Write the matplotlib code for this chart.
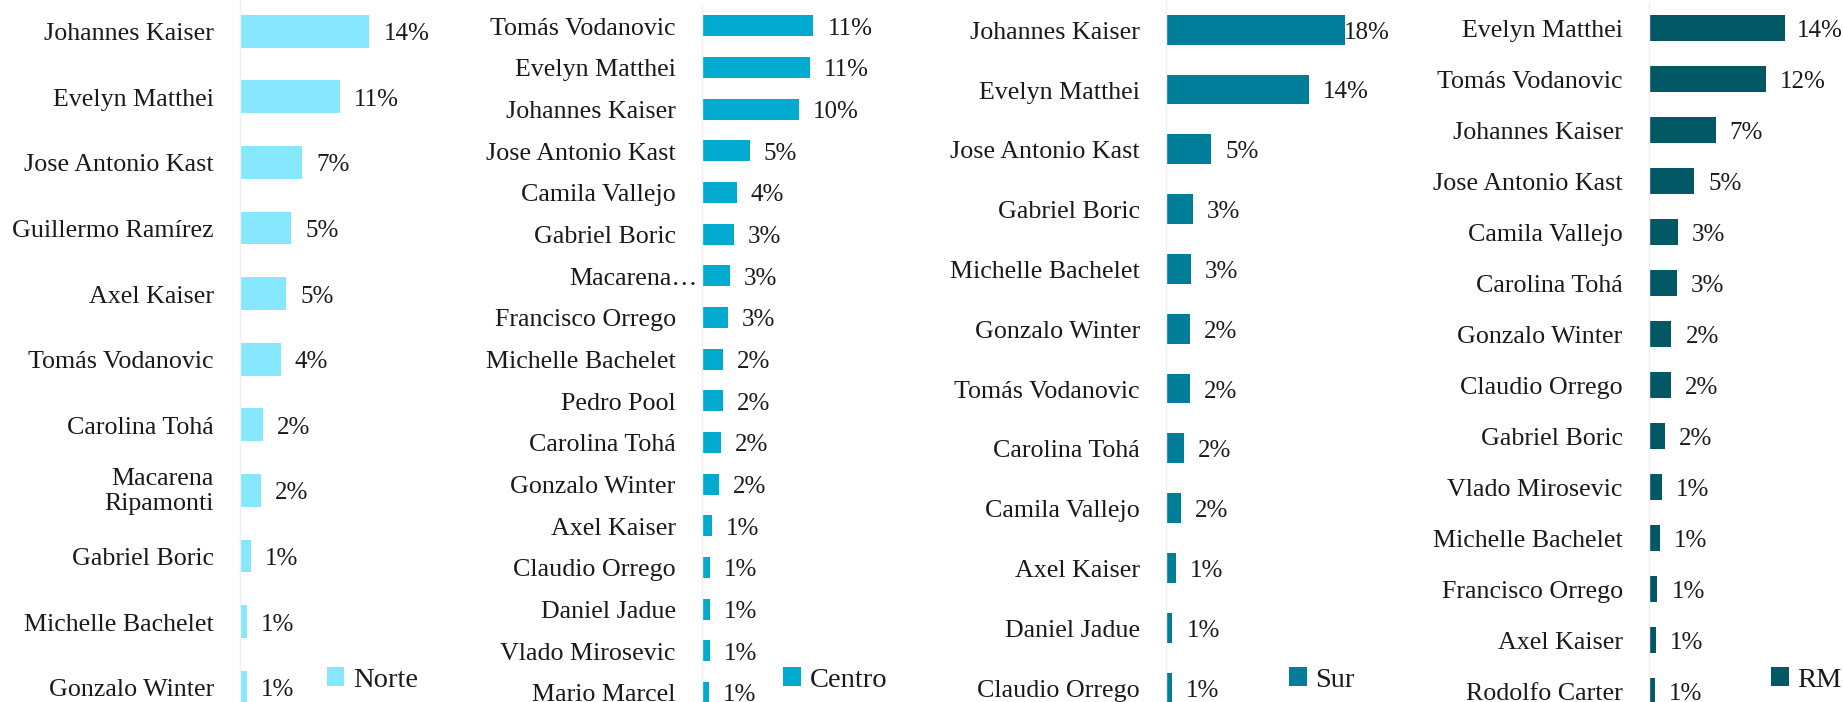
import matplotlib
matplotlib.use("Agg")
import matplotlib.pyplot as plt

# Preferencias por zona (porcentaje)
norte_names = ["Johannes Kaiser", "Evelyn Matthei", "Jose Antonio Kast", "Guillermo Ramírez",
               "Axel Kaiser", "Tomás Vodanovic", "Carolina Tohá", "Macarena\nRipamonti",
               "Gabriel Boric", "Michelle Bachelet", "Gonzalo Winter"]
norte_vals = [13.7, 10.6, 6.6, 5.4, 4.9, 4.3, 2.4, 2.2, 1.2, 0.7, 0.7]

centro_names = ["Tomás Vodanovic", "Evelyn Matthei", "Johannes Kaiser", "Jose Antonio Kast",
                "Camila Vallejo", "Gabriel Boric", "Macarena…", "Francisco Orrego",
                "Michelle Bachelet", "Pedro Pool", "Carolina Tohá", "Gonzalo Winter",
                "Axel Kaiser", "Claudio Orrego", "Daniel Jadue", "Vlado Mirosevic", "Mario Marcel"]
centro_vals = [11.4, 11.0, 9.9, 4.9, 3.6, 3.3, 2.9, 2.7, 2.2, 2.2, 2.0, 1.8,
               1.0, 0.85, 0.85, 0.8, 0.75]

sur_names = ["Johannes Kaiser", "Evelyn Matthei", "Jose Antonio Kast", "Gabriel Boric",
             "Michelle Bachelet", "Gonzalo Winter", "Tomás Vodanovic", "Carolina Tohá",
             "Camila Vallejo", "Axel Kaiser", "Daniel Jadue", "Claudio Orrego"]
sur_vals = [18.1, 14.4, 4.55, 2.7, 2.55, 2.4, 2.4, 1.85, 1.52, 1.0, 0.65, 0.58]

rm_names = ["Evelyn Matthei", "Tomás Vodanovic", "Johannes Kaiser", "Jose Antonio Kast",
            "Camila Vallejo", "Carolina Tohá", "Gonzalo Winter", "Claudio Orrego",
            "Gabriel Boric", "Vlado Mirosevic", "Michelle Bachelet", "Francisco Orrego",
            "Axel Kaiser", "Rodolfo Carter"]
rm_vals = [14.0, 12.1, 6.9, 4.7, 3.0, 2.9, 2.35, 2.3, 1.7, 1.35, 1.2, 0.9, 0.72, 0.6]

zones = ["Norte", "Centro", "Sur", "RM"]
colors = ["#86E7FF", "#00ABCF", "#007E99", "#035866"]

W, H = 1843, 702
FONT = "Liberation Serif"
NAME_SIZE = 18.7
VALUE_SIZE = 18
LEGEND_SIZE = 20.5
TEXT_COLOR = "#1a1a1a"
PT = 0.72  # points per pixel at 100 dpi

fig = plt.figure(figsize=(W / 100, H / 100), dpi=100)
fig.patch.set_facecolor("white")

# panel geometry in pixels: x of bar origin, px per percent, top, bottom, right edge
panels = [
    dict(names=norte_names, vals=norte_vals, x0=240.0, scale=9.45, top=-1.6, bottom=720.0,
         right=440.0, legend_x=326.7),
    dict(names=centro_names, vals=centro_vals, x0=701.7, scale=9.8, top=5.0, bottom=713.3,
         right=905.0, legend_x=783.3),
    dict(names=sur_names, vals=sur_vals, x0=1166.0, scale=9.9, top=-0.2, bottom=717.4,
         right=1390.0, legend_x=1289.3),
    dict(names=rm_names, vals=rm_vals, x0=1648.7, scale=9.7, top=2.3, bottom=716.3,
         right=1843.0, legend_x=1771.0),
]

axes = []
for p, zone, color in zip(panels, zones, colors):
    left = p["x0"] / W
    width = (p["right"] - p["x0"]) / W
    bottom = 1 - p["bottom"] / H
    height = (p["bottom"] - p["top"]) / H
    ax = fig.add_axes([left, bottom, width, height])
    ax.set_facecolor("none")
    n = len(p["names"])
    ypos = list(range(n))
    ax.barh(ypos, p["vals"], height=0.5, color=color, label=zone, zorder=2)
    ax.set_xlim(0, (p["right"] - p["x0"]) / p["scale"])
    ax.set_ylim(n - 0.5, -0.5)
    for s in ["top", "right", "bottom"]:
        ax.spines[s].set_visible(False)
    ax.spines["left"].set_color("#efefef")
    ax.spines["left"].set_linewidth(1.0)
    ax.set_xticks([])
    ax.set_yticks(ypos)
    ax.set_yticklabels([])
    ax.tick_params(axis="y", length=0)

    for i, name in enumerate(p["names"]):
        dx = -26
        if name.endswith("…"):
            dx = -4
        dy = -3 if "\n" not in name else -1
        ax.annotate(name, xy=(0, i), xycoords=("data", "data"), xytext=(dx * PT, dy * PT),
                    textcoords="offset points", ha="right", va="center",
                    fontsize=NAME_SIZE, family=FONT, color=TEXT_COLOR,
                    multialignment="right", annotation_clip=False)

    for i, v in enumerate(p["vals"]):
        lbl = f"{v:.0f}%"
        t = ax.annotate(lbl, xy=(v, i), xytext=(14 * PT, -3 * PT), textcoords="offset points",
                        ha="left", va="center", fontsize=VALUE_SIZE, family=FONT,
                        color=TEXT_COLOR, annotation_clip=False)
        p.setdefault("value_texts", []).append((t, i))

    leg = ax.legend(loc="center left",
                    bbox_to_anchor=(p["legend_x"] / W, 1 - 680.0 / H),
                    bbox_transform=fig.transFigure, frameon=False,
                    prop={"family": FONT, "size": LEGEND_SIZE},
                    handlelength=0.62, handleheight=0.62, handletextpad=0.3,
                    borderpad=0, borderaxespad=0)
    for txt in leg.get_texts():
        txt.set_color(TEXT_COLOR)
    axes.append(ax)

# keep value labels inside each panel's right edge
fig.canvas.draw()
renderer = fig.canvas.get_renderer()
for ax, p in zip(axes, panels):
    ax_bb = ax.get_window_extent(renderer)
    for t, i in p["value_texts"]:
        bb = t.get_window_extent(renderer)
        if bb.x1 > ax_bb.x1:
            t.xy = (ax.get_xlim()[1], i)
            t.set_position((0, -3 * PT))
            t.set_ha("right")

fig.savefig("out.png", dpi=100, facecolor="white")
